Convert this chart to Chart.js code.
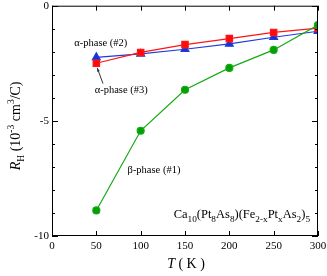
<!DOCTYPE html>
<html>
<head>
<meta charset="utf-8">
<script src="https://cdn.jsdelivr.net/npm/chart.js@4.4.0/dist/chart.umd.min.js"></script>
<style>
  body { margin: 0; background: #fff; }
  #wrap { width: 327px; height: 276px; }
</style>
</head>
<body>
<div id="wrap"><canvas id="c" width="327" height="276"></canvas></div>
<script>
// data
const temps = [50, 100, 150, 200, 250, 300];
const betaPhase1 = [-8.89, -5.43, -3.65, -2.70, -1.92, -0.84];
const alphaPhase3 = [-2.50, -2.03, -1.69, -1.43, -1.16, -0.97];
const alphaPhase2 = [-2.24, -2.09, -1.89, -1.66, -1.37, -1.11];
const xTicks = [0, 50, 100, 150, 200, 250, 300];
const yTicks = [0, -5, -10];

const FONT = '"Liberation Serif", "DejaVu Serif", serif';

function pts(vals) {
    return temps.map((t, i) => ({ x: t, y: vals[i] }));
}

// draw text pieces with sub/superscripts, returns width
function richText(ctx, parts, x, y, size, measureOnly, subScale) {
    let cx = x;
    parts.forEach(p => {
        const s = p.sub || p.sup ? size * (subScale || 0.68) : size;
        ctx.font = (p.it ? 'italic ' : '') + s + 'px ' + FONT;
        const dy = p.sub ? size * 0.3 : (p.sup ? -size * 0.42 : 0);
        if (!measureOnly) ctx.fillText(p.t, cx, y + dy);
        cx += ctx.measureText(p.t).width;
    });
    return cx - x;
}

// ticks inward, mirrored on all 4 sides, plus labels
const frame = {
    id: 'frame',
    afterDraw(chart) {
        const ctx = chart.ctx;
        const a = chart.chartArea;
        const xs = chart.scales.x, ys = chart.scales.y;
        ctx.save();
        ctx.strokeStyle = '#000';
        ctx.lineWidth = 1;
        ctx.strokeRect(a.left + 0.5, a.top + 0.5, a.right - a.left - 1, a.bottom - a.top - 1);
        ctx.beginPath();
        xTicks.forEach(v => {
            const px = Math.round(xs.getPixelForValue(v)) + 0.5;
            ctx.moveTo(px, a.bottom); ctx.lineTo(px, a.bottom - 5);
            ctx.moveTo(px, a.top); ctx.lineTo(px, a.top + 5);
        });
        for (let v = 0; v >= -10; v--) {
            const py = Math.round(ys.getPixelForValue(v)) + 0.5;
            const len = v % 5 === 0 ? 6 : 3;
            ctx.moveTo(a.left, py); ctx.lineTo(a.left + len, py);
            ctx.moveTo(a.right, py); ctx.lineTo(a.right - len, py);
        }
        ctx.stroke();

        // tick labels
        ctx.fillStyle = '#000';
        ctx.font = '11px ' + FONT;
        ctx.textAlign = 'center';
        ctx.textBaseline = 'middle';
        xTicks.forEach(v => ctx.fillText(String(v), xs.getPixelForValue(v), a.bottom + 10));
        ctx.textAlign = 'right';
        yTicks.forEach(v => ctx.fillText(String(v), a.left - 3, ys.getPixelForValue(v)));

        // axis titles
        ctx.textAlign = 'left';
        ctx.textBaseline = 'alphabetic';
        const xt = [{ t: 'T', it: true }, { t: ' ( K )' }];
        const wx = richText(ctx, xt, 0, 0, 14, true);
        richText(ctx, xt, (a.left + a.right) / 2 - wx / 2 + 1, 268, 14);

        const yt = [{ t: 'R', it: true }, { t: 'H', sub: true }, { t: ' (10' }, { t: '-3', sup: true },
                    { t: ' cm' }, { t: '3', sup: true }, { t: '/C)' }];
        const wy = richText(ctx, yt, 0, 0, 14, true);
        ctx.save();
        ctx.translate(20, (a.top + a.bottom) / 2 + 5);
        ctx.rotate(-Math.PI / 2);
        richText(ctx, yt, -wy / 2, 0, 14);
        ctx.restore();

        // annotations
        ctx.font = '10.5px ' + FONT;
        ctx.textAlign = 'center';
        ctx.textBaseline = 'middle';
        ctx.fillText('\u03b1-phase (#2)', xs.getPixelForValue(55), ys.getPixelForValue(-1.64));
        ctx.fillText('\u03b1-phase (#3)', xs.getPixelForValue(78), ys.getPixelForValue(-3.68));
        ctx.fillText('\u03b2-phase (#1)', xs.getPixelForValue(115), ys.getPixelForValue(-7.14));

        // arrow to the #3 point
        const x0 = xs.getPixelForValue(57.5), y0 = ys.getPixelForValue(-3.38);
        const x1 = xs.getPixelForValue(51), y1 = ys.getPixelForValue(-2.7);
        ctx.strokeStyle = '#333';
        ctx.beginPath(); ctx.moveTo(x0, y0); ctx.lineTo(x1, y1); ctx.stroke();
        const ang = Math.atan2(y1 - y0, x1 - x0);
        ctx.fillStyle = '#333';
        ctx.beginPath();
        ctx.moveTo(x1, y1);
        ctx.lineTo(x1 - 4 * Math.cos(ang - 0.35), y1 - 4 * Math.sin(ang - 0.35));
        ctx.lineTo(x1 - 4 * Math.cos(ang + 0.35), y1 - 4 * Math.sin(ang + 0.35));
        ctx.closePath(); ctx.fill();

        // formula
        ctx.fillStyle = '#000';
        ctx.textAlign = 'left';
        ctx.textBaseline = 'alphabetic';
        const f = [{ t: 'Ca' }, { t: '10', sub: true }, { t: '(Pt' }, { t: '8', sub: true }, { t: 'As' },
                   { t: '8', sub: true }, { t: ')(Fe' }, { t: '2-x', sub: true }, { t: 'Pt' }, { t: 'x', sub: true },
                   { t: 'As' }, { t: '2', sub: true }, { t: ')' }, { t: '5', sub: true }];
        const wf = richText(ctx, f, 0, 0, 12.5, true, 0.74);
        richText(ctx, f, xs.getPixelForValue(291) - wf, ys.getPixelForValue(-9.05) + 4, 12.5, false, 0.74);
        ctx.restore();
    }
};

new Chart(document.getElementById('c'), {
    type: 'scatter',
    data: {
        datasets: [
            {
                label: '\u03b2-phase (#1)',
                data: pts(betaPhase1),
                showLine: true,
                borderColor: 'rgb(20,170,20)',
                backgroundColor: 'rgb(0,160,0)',
                borderWidth: 1.2,
                pointStyle: 'circle',
                pointRadius: 3.5
            },
            {
                label: '\u03b1-phase (#3)',
                data: pts(alphaPhase3),
                showLine: true,
                borderColor: 'rgb(255,20,20)',
                backgroundColor: 'rgb(255,10,10)',
                borderWidth: 1.2,
                pointStyle: 'rect',
                pointRadius: 4.5
            },
            {
                label: '\u03b1-phase (#2)',
                data: pts(alphaPhase2),
                showLine: true,
                borderColor: 'rgb(30,60,220)',
                backgroundColor: 'rgb(20,50,220)',
                borderWidth: 1.2,
                pointStyle: 'triangle',
                pointRadius: 4.5
            }
        ]
    },
    options: {
        responsive: false,
        animation: false,
        layout: { padding: { top: 5, right: 9, left: 0, bottom: 0 } },
        plugins: { legend: { display: false }, tooltip: { enabled: false } },
        scales: {
            x: {
                type: 'linear', min: 0, max: 300,
                grid: { display: false },
                border: { display: false },
                ticks: { display: false },
                afterFit(s) { s.height = 40; }
            },
            y: {
                type: 'linear', min: -10, max: 0,
                grid: { display: false },
                border: { display: false },
                ticks: { display: false },
                afterFit(s) { s.width = 52; }
            }
        }
    },
    plugins: [frame]
});
</script>
</body>
</html>
